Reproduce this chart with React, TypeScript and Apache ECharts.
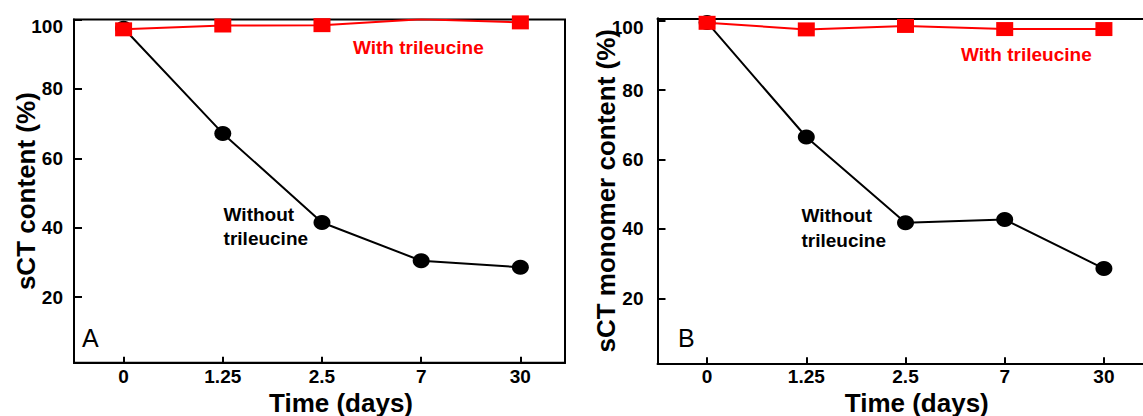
import React, { useEffect, useRef } from 'react';
import * as echarts from 'echarts';

// ---- data ----
const timeLabels = ['0', '1.25', '2.5', '7', '30'];
const yTickValues = [20, 40, 60, 80, 100];
const panelAWith = [97.2, 98.3, 98.4, 100.1, 99.2];
const panelAWithout = [97.5, 67.2, 41.5, 30.5, 28.6];
const panelBWith = [99.4, 97.5, 98.5, 97.6, 97.6];
const panelBWithout = [99.5, 66.5, 41.8, 42.7, 28.6];
const xTickValues = timeLabels.map((_, i) => i);

const FONT = '"Liberation Sans", Arial, Helvetica, sans-serif';

function pts(vals: number[]) {
  return vals.map((v, i) => [i, v]);
}

function xAxisCfg(gridIndex: number, max: number, namePad: number) {
  return {
    type: 'value',
    gridIndex,
    min: -0.5,
    max,
    name: 'Time (days)',
    nameLocation: 'middle',
    nameGap: 27,
    nameMoveOverlap: false,
    nameTextStyle: {
      fontFamily: FONT,
      fontWeight: 'bold',
      fontSize: 26,
      color: '#000',
      padding: [0, 0, 0, namePad],
    },
    axisLine: { show: true, onZero: false, lineStyle: { color: '#000', width: 2 } },
    axisTick: {
      show: true,
      inside: true,
      length: 6,
      customValues: xTickValues,
      lineStyle: { color: '#000', width: 2 },
    },
    axisLabel: {
      show: true,
      customValues: xTickValues,
      margin: 4,
      fontFamily: FONT,
      fontWeight: 'bold',
      fontSize: 19,
      color: '#000',
      formatter: (v: number) => timeLabels[Math.round(v)] ?? '',
    },
    splitLine: { show: false },
  };
}

function topAxisCfg(gridIndex: number, max: number) {
  return {
    type: 'value',
    gridIndex,
    position: 'top',
    min: -0.5,
    max,
    axisLine: { show: true, onZero: false, lineStyle: { color: '#000', width: 2 } },
    axisTick: { show: false },
    axisLabel: { show: false },
    splitLine: { show: false },
  };
}

function yAxisCfg(gridIndex: number, min: number, max: number, name: string, nameGap: number, margin: number) {
  return {
    type: 'value',
    gridIndex,
    min,
    max,
    name,
    nameLocation: 'middle',
    nameGap,
    nameMoveOverlap: false,
    nameTextStyle: {
      fontFamily: FONT,
      fontWeight: 'bold',
      fontSize: 26,
      color: '#000',
    },
    axisLine: { show: true, onZero: false, lineStyle: { color: '#000', width: 2 } },
    axisTick: {
      show: true,
      inside: true,
      length: 8,
      customValues: yTickValues,
      lineStyle: { color: '#000', width: 2 },
    },
    axisLabel: {
      show: true,
      customValues: yTickValues,
      margin,
      fontFamily: FONT,
      fontWeight: 'bold',
      fontSize: 19,
      color: '#000',
      formatter: (v: number) => (v === 100 ? '{t|100}' : String(v)),
      rich: {
        t: {
          fontFamily: FONT,
          fontWeight: 'bold',
          fontSize: 19,
          color: '#000',
          padding: [13, 0, 0, 0],
        },
      },
    },
    splitLine: { show: false },
  };
}

function blackSeries(idx: number, vals: number[]) {
  return {
    type: 'line',
    xAxisIndex: idx,
    yAxisIndex: idx,
    data: pts(vals),
    symbol: 'circle',
    symbolSize: [17, 15],
    itemStyle: { color: '#000' },
    lineStyle: { color: '#000', width: 2 },
    z: 3,
  };
}

function redSeries(idx: number, vals: number[]) {
  return {
    type: 'line',
    xAxisIndex: idx,
    yAxisIndex: idx,
    data: pts(vals),
    symbol: 'rect',
    symbolSize: [17, 14],
    itemStyle: { color: '#ff0000' },
    lineStyle: { color: '#ff0000', width: 2 },
    z: 4,
  };
}

function label(text: string, x: number, y: number, color: string, size = 19, weight = 'bold') {
  return {
    type: 'text',
    x,
    y,
    style: {
      text,
      fill: color,
      fontFamily: FONT,
      fontWeight: weight,
      fontSize: size,
      align: 'left',
      verticalAlign: 'middle',
    },
    z: 10,
  };
}

export default function App() {
  const ref = useRef<HTMLDivElement>(null);
  useEffect(() => {
    if (!ref.current) return;
    const chart = echarts.init(ref.current, null, { renderer: 'svg' });
    const option: any = {
      animation: false,
      backgroundColor: '#fff',
      grid: [
        { left: 74, top: 19.6, width: 491, height: 343.1, show: true, borderColor: '#000', borderWidth: 2, containLabel: false, outerBoundsMode: 'none' },
        { left: 657.5, top: 18.3, right: 0, height: 345, show: false, containLabel: false, outerBoundsMode: 'none' },
      ],
      xAxis: [xAxisCfg(0, 4.45, 43), xAxisCfg(1, 4.394, 33), topAxisCfg(1, 4.394)],
      yAxis: [
        yAxisCfg(0, 1.1, 100, 'sCT content (%)', 35, 11),
        yAxisCfg(1, 1.3, 100.7, 'sCT monomer content (%)', 38.5, 14),
      ],
      series: [
        blackSeries(0, panelAWithout),
        redSeries(0, panelAWith),
        blackSeries(1, panelBWithout),
        redSeries(1, panelBWith),
      ],
      graphic: [
        label('With trileucine', 353, 47.4, '#ff0000'),
        label('Without', 223.6, 214.1, '#000'),
        label('trileucine', 223.6, 238.4, '#000'),
        label('A', 82, 338.3, '#000', 25, 'normal'),
        label('With trileucine', 961, 54.1, '#ff0000'),
        label('Without', 801.5, 215.7, '#000'),
        label('trileucine', 801.5, 240.7, '#000'),
        label('B', 678, 338.3, '#000', 25, 'normal'),
      ],
    };
    chart.setOption(option);
    return () => chart.dispose();
  }, []);
  return (
    <div
      ref={ref}
      style={{ position: 'fixed', left: 0, top: 0, width: 1143, height: 416, background: '#fff' }}
    />
  );
}
